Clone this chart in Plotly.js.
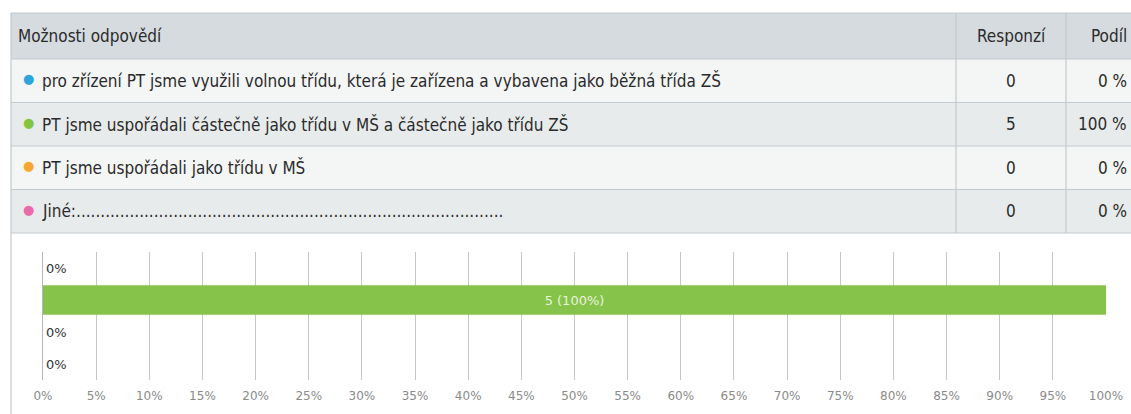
<!DOCTYPE html>
<html>
<head>
<meta charset="utf-8">
<script src="https://cdn.plot.ly/plotly-3.0.1.min.js"></script>
<style>html,body{margin:0;padding:0;background:#fff;}#chart{width:1131px;height:414px;}</style>
</head>
<body>
<div id="chart"></div>
<script>
const headers = ["Možnosti odpovědí", "Responzí", "Podíl"];
const options = [
  "pro zřízení PT jsme využili volnou třídu, která je zařízena a vybavena jako běžná třída ZŠ",
  "PT jsme uspořádali částečně jako třídu v MŠ a částečně jako třídu ZŠ",
  "PT jsme uspořádali jako třídu v MŠ",
  "Jiné:........................................................................................"
];
const counts = [0, 5, 0, 0];
const shares = [0, 100, 0, 0];
const dotColors = ["#2ea3dc", "#86c440", "#f8a830", "#e86aa8"];
const tickVals = [0,5,10,15,20,25,30,35,40,45,50,55,60,65,70,75,80,85,90,95,100];

const W = 1131, H = 414;
const px = x => x / W;
const py = y => 1 - y / H;

const tableFont = "DejaVu Sans Condensed, Liberation Sans Narrow, sans-serif";
const textColor = "#2b2b2b";
const lineColor = "#c4cacd";

// table geometry (layout, not data)
const tLeft = 11, tRight = W, tTop = 13, headH = 46, rowH = 43.5;
const colSep = [956, 1066];
const col2Center = 1011, col3Right = 1126;

const shapes = [];
const annotations = [];

shapes.push({type: "rect", xref: "paper", yref: "paper", x0: px(tLeft), x1: px(tRight), y0: py(tTop), y1: py(tTop + headH),
  fillcolor: "#d5dbde", line: {width: 0}, layer: "below"});
options.forEach((_, i) => {
  const y0 = tTop + headH + i * rowH;
  shapes.push({type: "rect", xref: "paper", yref: "paper", x0: px(tLeft), x1: px(tRight), y0: py(y0), y1: py(y0 + rowH),
    fillcolor: i % 2 === 0 ? "#f4f5f5" : "#e8ebec", line: {width: 0}, layer: "below"});
});
for (let i = 0; i <= options.length + 1; i++) {
  const y = i === 0 ? tTop : tTop + headH + (i - 1) * rowH;
  shapes.push({type: "line", xref: "paper", yref: "paper", x0: px(tLeft), x1: px(tRight), y0: py(y), y1: py(y),
    line: {color: lineColor, width: 1.2}});
}
const tBottom = tTop + headH + options.length * rowH;
colSep.forEach(x => shapes.push({type: "line", xref: "paper", yref: "paper", x0: px(x), x1: px(x), y0: py(tTop), y1: py(tBottom),
  line: {color: lineColor, width: 1.2}}));
shapes.push({type: "line", xref: "paper", yref: "paper", x0: px(tLeft), x1: px(tLeft), y0: py(tTop), y1: 0,
  line: {color: lineColor, width: 1.2}});

const ann = (text, x, y, xanchor, extra) => Object.assign({
  text: text, xref: "paper", yref: "paper", x: px(x), y: py(y), xanchor: xanchor, yanchor: "middle",
  showarrow: false, font: {family: tableFont, size: 17, color: textColor}
}, extra || {});

const headCy = tTop + headH / 2;
annotations.push(ann(headers[0], 16, headCy, "left"));
annotations.push(ann(headers[1], col2Center, headCy, "center"));
annotations.push(ann(headers[2], col3Right + 3, headCy, "right"));

options.forEach((t, i) => {
  const cy = tTop + headH + i * rowH + rowH / 2;
  annotations.push(ann("●", 28, cy - 2, "center", {font: {family: "DejaVu Sans, sans-serif", size: 13, color: dotColors[i]}}));
  annotations.push(ann(t, 40, cy, "left"));
  annotations.push(ann(String(counts[i]), col2Center, cy, "center"));
  annotations.push(ann(shares[i] + " %", col3Right + 3, cy, "right"));
});

const barText = counts.map((c, i) => c > 0 ? c + " (" + shares[i] + "%)" : shares[i] + "%");
const bar = {
  type: "bar",
  orientation: "h",
  x: shares,
  y: options,
  width: 0.92,
  marker: {color: "#86c34a"},
  text: barText,
  textposition: counts.map(c => c > 0 ? "inside" : "outside"),
  insidetextanchor: "middle",
  insidetextfont: {family: "DejaVu Sans, sans-serif", size: 13, color: "#e8f4da"},
  outsidetextfont: {family: "DejaVu Sans, sans-serif", size: 13, color: "#333"},
  cliponaxis: false,
  hoverinfo: "none"
};

const layout = {
  width: W, height: H,
  margin: {l: 0, r: 0, t: 0, b: 0},
  paper_bgcolor: "#fff",
  plot_bgcolor: "rgba(0,0,0,0)",
  showlegend: false,
  xaxis: {
    domain: [px(43), px(1106)],
    range: [0, 100],
    tickvals: tickVals,
    ticktext: tickVals.map(v => v + "%"),
    showgrid: true, gridcolor: "#c6c6c6", gridwidth: 1,
    zeroline: false, showline: false,
    ticks: "outside", ticklen: 5, tickcolor: "rgba(0,0,0,0)",
    tickfont: {family: "DejaVu Sans, sans-serif", size: 12, color: "#8a8a8a"},
    anchor: "y", fixedrange: true
  },
  yaxis: {
    domain: [py(380), py(252)],
    autorange: "reversed",
    type: "category",
    showticklabels: false,
    showgrid: false, zeroline: false,
    showline: true, linecolor: "#b8b8b8", linewidth: 1,
    anchor: "x", fixedrange: true
  },
  shapes: shapes,
  annotations: annotations
};

Plotly.newPlot("chart", [bar], layout, {displayModeBar: false, staticPlot: true});
</script>
</body>
</html>
